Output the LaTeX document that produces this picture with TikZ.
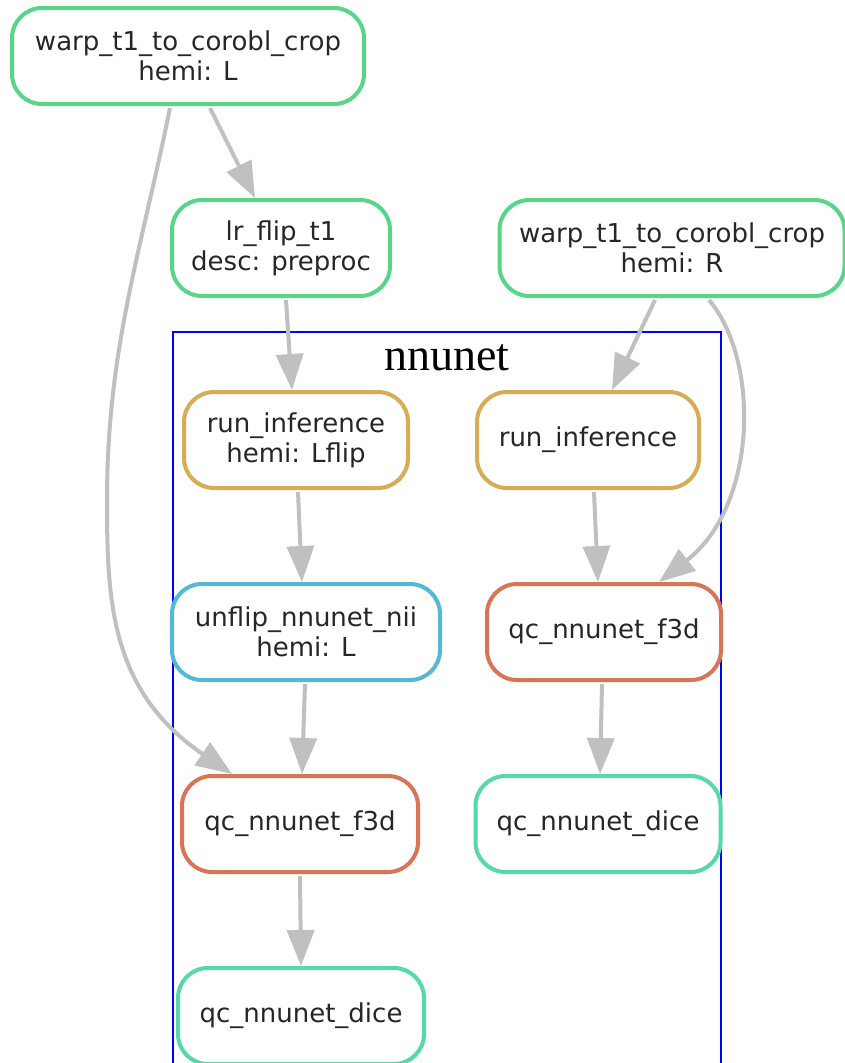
\documentclass[tikz,border=0pt]{standalone}
\usepackage{fontspec}
\newfontfamily\djv{DejaVu Sans}
\newfontfamily\lsr{Liberation Serif}
\usetikzlibrary{arrows.meta}
\definecolor{cgreen}{RGB}{87,214,137}
\definecolor{cgold}{RGB}{216,172,86}
\definecolor{cblue}{RGB}{86,184,216}
\definecolor{corange}{RGB}{216,117,86}
\definecolor{cteal}{RGB}{86,216,169}
\definecolor{cedge}{RGB}{192,192,192}
\tikzset{
  job/.style={draw, line width=4pt, rounded corners=30pt, fill=white,
    minimum height=96pt, align=center, inner sep=0pt,
    font=\djv\fontsize{26}{30}\selectfont, text=black!85},
  conn/.style={draw=cedge, line width=4pt,
    -{Triangle[length=36pt,width=27pt]}, color=cedge},
}
\begin{document}
\begin{tikzpicture}[x=1pt,y=-1pt]
\clip (0,0) rectangle (845,1063);
\fill[white] (0,0) rectangle (845,1063);
\draw[blue, line width=2pt] (173,332) rectangle (721,1120);
\node[font=\lsr\fontsize{46}{50}\selectfont] (lbl) at (447,358) {nnunet};

\node[job, draw=cgreen, minimum width=352pt] (wl) at (188,56) {warp\_t1\_to\_corobl\_crop\\hemi: L};
\node[job, draw=cgreen, minimum width=218pt] (lf) at (281,248) {lr\_flip\_t1\\desc: preproc};
\node[job, draw=cgreen, minimum width=345pt] (wr) at (672,248) {warp\_t1\_to\_corobl\_crop\\hemi: R};
\node[job, draw=cgold, minimum width=224pt] (ril) at (296,440) {run\_inference\\hemi: Lflip};
\node[job, draw=cgold, minimum width=222pt] (rir) at (588,440) {run\_inference};
\node[job, draw=cblue, minimum width=268pt] (un) at (306,632) {unflip\_nnunet\_nii\\hemi: L};
\node[job, draw=corange, minimum width=234pt] (qfr) at (604,632) {qc\_nnunet\_f3d};
\node[job, draw=corange, minimum width=236pt] (qfl) at (300,824) {qc\_nnunet\_f3d};
\node[job, draw=cteal, minimum width=245pt] (qdr) at (598,824) {qc\_nnunet\_dice};
\node[job, draw=cteal, minimum width=246pt] (qdl) at (301,1016) {qc\_nnunet\_dice};

\draw[conn] ([xshift=22pt,yshift=-2pt]wl.south) -- ([xshift=-26pt]lf.north);
\draw[conn] ([xshift=-18pt,yshift=-2pt]wl.south) .. controls (141,251) and (107,350) .. (107,500)
  .. controls (107,600) and (110,691) .. ([xshift=-68pt]qfl.north);
\draw[conn] ([xshift=5pt,yshift=-2pt]lf.south) -- ([xshift=-4pt]ril.north);
\draw[conn] ([xshift=-17pt,yshift=-2pt]wr.south) -- ([xshift=24pt]rir.north);
\draw[conn] ([xshift=37pt,yshift=-2pt]wr.south) .. controls (760,360) and (758,505) .. ([xshift=55pt]qfr.north);
\draw[conn] ([xshift=2pt,yshift=-2pt]ril.south) -- ([xshift=-4pt]un.north);
\draw[conn] ([xshift=6pt,yshift=-2pt]rir.south) -- ([xshift=-6pt]qfr.north);
\draw[conn] ([xshift=-1pt,yshift=-2pt]un.south) -- ([xshift=2pt]qfl.north);
\draw[conn] ([xshift=-2pt,yshift=-2pt]qfr.south) -- ([xshift=2pt]qdr.north);
\draw[conn] ([yshift=-2pt]qfl.south) -- (qdl.north);
\end{tikzpicture}
\end{document}
